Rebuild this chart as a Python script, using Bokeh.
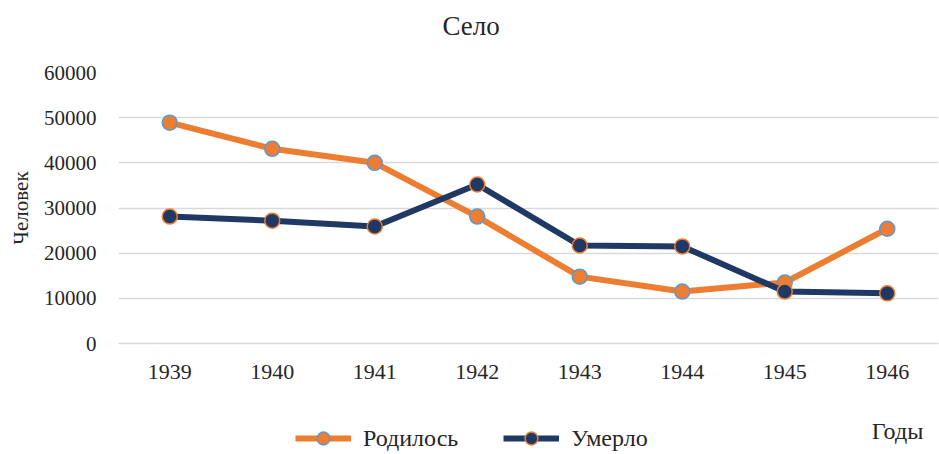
from bokeh.plotting import figure
from bokeh.layouts import column
from bokeh.models import Range1d, Legend, LegendItem, FixedTicker, Label
from bokeh.embed import file_html
from bokeh.resources import INLINE

years = ["1939", "1940", "1941", "1942", "1943", "1944", "1945", "1946"]
born = [48900, 43100, 40000, 28100, 14800, 11500, 13500, 25400]
died = [28100, 27200, 25900, 35200, 21700, 21500, 11500, 11100]
y_ticks = [0, 10000, 20000, 30000, 40000, 50000, 60000]
series_names = ["Родилось", "Умерло"]
title_text = "Село"
y_label = "Человек"
x_label = "Годы"

FONT = "Liberation Serif"
ORANGE = "#ED7D31"
NAVY = "#203864"
BLUE = "#5B9BD5"
TXT = "#262626"
W = 939
FRAME_LEFT = 118


def strip(height):
    # strip whose frame is aligned with the main chart's frame; data units = page pixels
    f = figure(width=W, height=height, x_range=Range1d(FRAME_LEFT, W), y_range=Range1d(0, height),
               output_backend="svg", toolbar_location=None,
               x_axis_type=None, y_axis_type=None,
               min_border_left=FRAME_LEFT, min_border_right=1, min_border_top=0, min_border_bottom=0)
    f.outline_line_color = None
    f.xgrid.visible = False
    f.ygrid.visible = False
    f.background_fill_color = "white"
    f.border_fill_color = "white"
    return f


# title strip
top = strip(50)
top.add_layout(Label(x=471, y=25, text=title_text, text_font=FONT, text_font_size="27px",
                     text_color=TXT, text_align="center", text_baseline="middle"))

# main chart
p = figure(width=W, height=350, x_range=years, y_range=Range1d(0, 60000),
           output_backend="svg", toolbar_location=None,
           min_border_left=FRAME_LEFT, min_border_right=1, min_border_top=22, min_border_bottom=57)
p.outline_line_color = None
p.background_fill_color = "white"
p.border_fill_color = "white"

p.xgrid.grid_line_color = None
p.ygrid.grid_line_color = "#D9D9D9"
p.ygrid.grid_line_width = 1.5
p.yaxis.ticker = FixedTicker(ticks=y_ticks)
p.yaxis.axis_line_color = None
p.yaxis.major_tick_line_color = None
p.yaxis.minor_tick_line_color = None
p.yaxis.major_label_text_font = FONT
p.yaxis.major_label_text_font_size = "21px"
p.yaxis.major_label_text_color = TXT
p.yaxis.major_label_standoff = 16
p.yaxis.axis_label = y_label
p.yaxis.axis_label_text_font = FONT
p.yaxis.axis_label_text_font_size = "21px"
p.yaxis.axis_label_text_font_style = "normal"
p.yaxis.axis_label_text_color = TXT
p.yaxis.axis_label_standoff = 8

p.xaxis.axis_line_color = "#D9D9D9"
p.xaxis.axis_line_width = 1.5
p.xaxis.major_tick_line_color = None
p.xaxis.minor_tick_line_color = None
p.xaxis.major_label_text_font = FONT
p.xaxis.major_label_text_font_size = "22px"
p.xaxis.major_label_text_color = TXT
p.xaxis.major_label_standoff = 15

p.line(years, born, line_color=ORANGE, line_width=6)
p.scatter(years, born, size=15, fill_color=ORANGE, line_color=BLUE, line_width=1.5)
p.line(years, died, line_color=NAVY, line_width=6)
p.scatter(years, died, size=15, fill_color=NAVY, line_color=ORANGE, line_width=1.5)

# legend strip: the same series drawn again, far outside this strip's view, as legend sources
bot = strip(54)
idx = list(range(len(years)))
l1 = bot.line(idx, born, line_color=ORANGE, line_width=6)
m1 = bot.scatter(idx, born, size=15, fill_color=ORANGE, line_color=BLUE, line_width=1.5)
l2 = bot.line(idx, died, line_color=NAVY, line_width=6)
m2 = bot.scatter(idx, died, size=15, fill_color=NAVY, line_color=ORANGE, line_width=1.5)
legend = Legend(items=[LegendItem(label=series_names[0], renderers=[l1, m1]),
                       LegendItem(label=series_names[1], renderers=[l2, m2])],
                orientation="horizontal", location=(177, 0),
                label_text_font=FONT, label_text_font_size="24px", label_text_color=TXT,
                glyph_width=56, glyph_height=32, spacing=45, label_standoff=12,
                padding=0, margin=0,
                border_line_color=None, background_fill_alpha=0)
bot.add_layout(legend, "center")
bot.add_layout(Label(x=898, y=24, text=x_label, text_font=FONT, text_font_size="24px",
                     text_color=TXT, text_align="center", text_baseline="middle"))

layout = column(top, p, bot, spacing=0)
open("out.html", "w").write(file_html(layout, INLINE))
